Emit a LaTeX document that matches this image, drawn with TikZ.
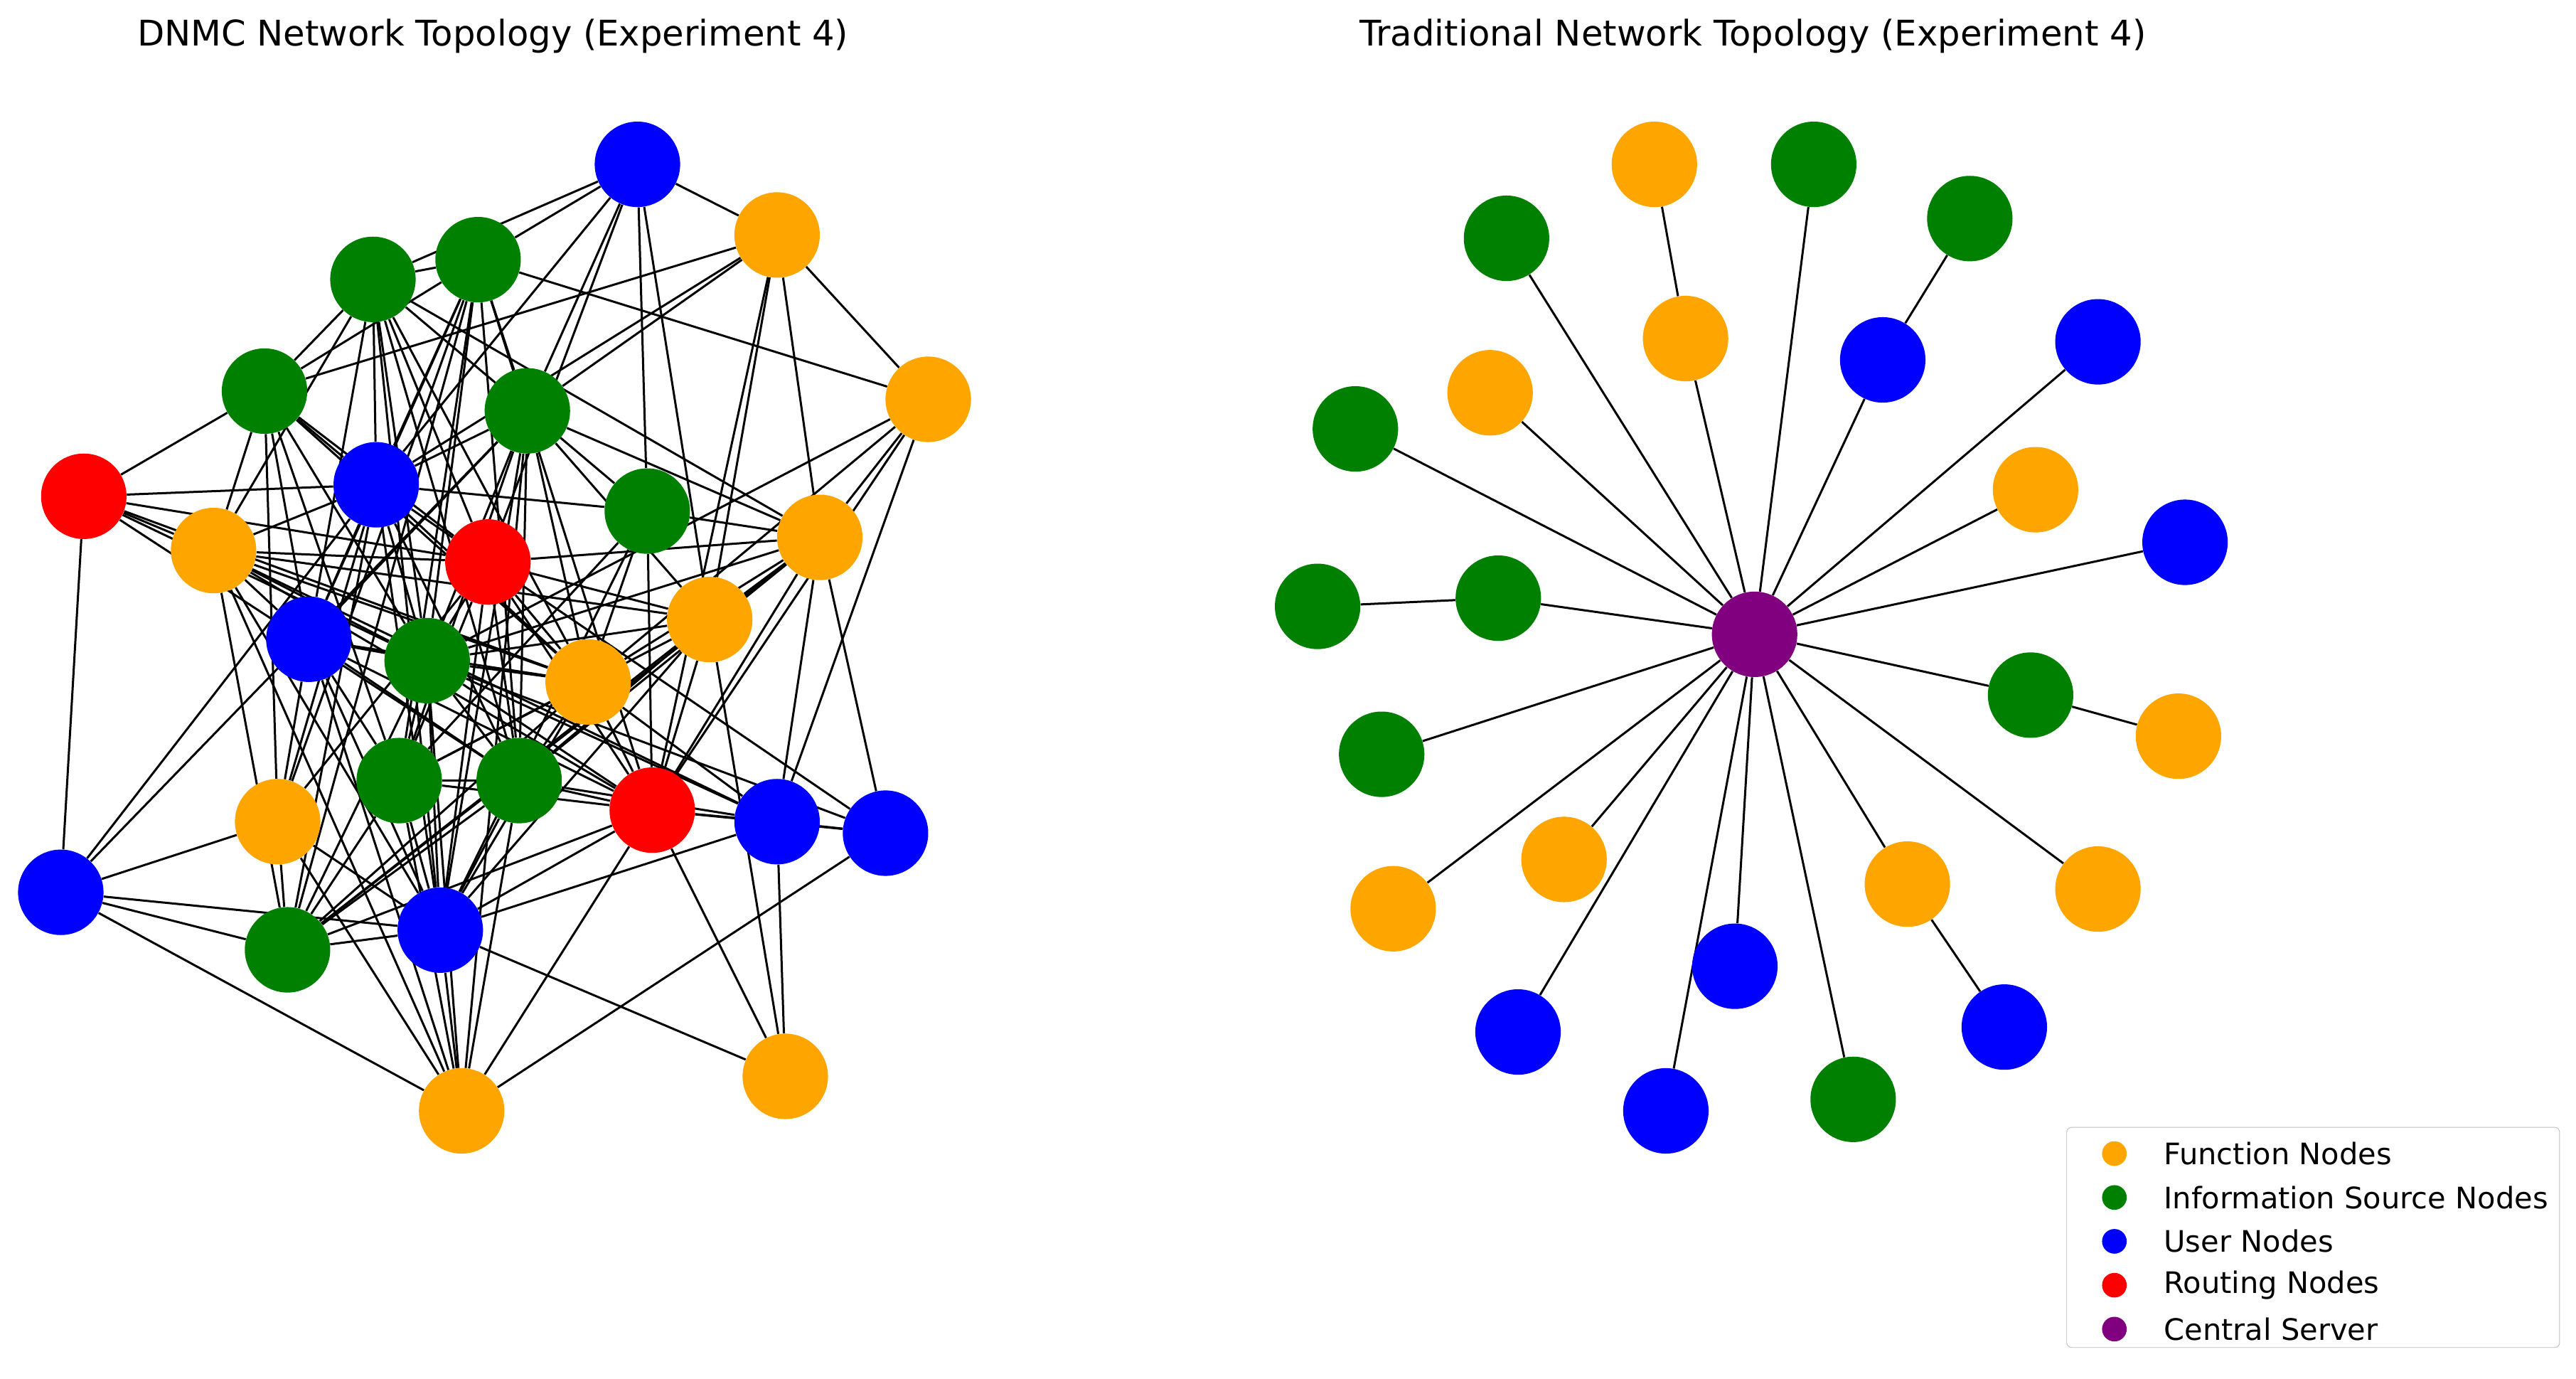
\documentclass[tikz,border=0pt]{standalone}
\usepackage{fontspec}
\setmainfont{DejaVu Sans}
\usetikzlibrary{backgrounds}
\definecolor{fcol}{RGB}{255,165,0}
\definecolor{scol}{RGB}{0,128,0}
\definecolor{ucol}{RGB}{0,0,255}
\definecolor{rcol}{RGB}{255,0,0}
\definecolor{ccol}{RGB}{128,0,128}
\begin{document}
\begin{tikzpicture}[x=1pt,y=-1pt,
    vtx/.style={circle,minimum size=52pt,inner sep=0pt},
    node_f/.style={vtx,fill=fcol},
    node_s/.style={vtx,fill=scol},
    node_u/.style={vtx,fill=ucol},
    node_r/.style={vtx,fill=rcol},
    node_c/.style={vtx,fill=ccol},
    link/.style={draw=black,line width=1.3pt},
    legdot/.style={circle,minimum size=15pt,inner sep=0pt},
    title/.style={font=\fontsize{21.5}{25}\selectfont},
    leg/.style={anchor=west,inner sep=0pt,font=\fontsize{18}{21}\selectfont}
  ]
  \useasboundingbox (0,0) rectangle (1568,839);
  \node[title] (t1) at (300,22) {DNMC Network Topology (Experiment 4)};
  \node[title] (t2) at (1067,22) {Traditional Network Topology (Experiment 4)};
  % DNMC graph
  \foreach \n/\s/\x/\y in {a1/u/388/100, a2/f/473/143, a3/s/227/170, a4/s/291/158,
      a5/s/161/238, a6/f/565/243, a7/s/321/250, a8/r/51/302, a9/u/229/295,
      a10/s/394/311, a11/f/499/327, a12/f/130/335, a13/r/297/342, a14/f/432/377,
      a15/u/188/389, a16/s/260/402, a17/f/358/415, a18/s/243/475, a19/s/316/475,
      a20/r/397/493, a21/u/473/500, a22/u/539/507, a23/f/169/500, a24/u/37/543,
      a25/u/268/566, a26/s/175/578, a27/f/478/655, a28/f/281/676}
    \node[node_\s] (\n) at (\x,\y) {};
  % traditional graph
  \node[node_c] (c) at (1068,386) {};
  \foreach \n/\s/\x/\y in {b1/f/1007/100, b2/s/1104/100, b3/s/917/145, b4/s/1199/133,
      b5/f/1026/206, b6/u/1146/219, b7/u/1277/208, b8/f/907/239, b9/s/825/261,
      b10/f/1239/298, b11/u/1330/330, b12/s/802/369, b13/s/912/364, b14/s/1236/423,
      b15/f/1326/448, b16/s/841/459, b17/f/848/553, b18/f/952/523, b19/f/1161/538,
      b20/f/1277/541, b21/u/1056/588, b22/u/924/628, b23/u/1220/625, b24/u/1014/676,
      b25/s/1128/669}
    \node[node_\s] (\n) at (\x,\y) {};
  \begin{scope}[on background layer]
    \foreach \a/\b in {a1/a3, a1/a4, a1/a2, a1/a9, a1/a13, a1/a10, a1/a14, a1/a7,
        a8/a5, a8/a9, a8/a12, a8/a24, a8/a16, a8/a17, a8/a19, a8/a13,
        a24/a23, a24/a25, a24/a26, a24/a28, a24/a9, a24/a7,
        a28/a25, a28/a16, a28/a18, a28/a19, a28/a20, a28/a22, a28/a15, a28/a12,
        a27/a25, a27/a20, a27/a21, a27/a14,
        a22/a20, a22/a21, a22/a11, a22/a16, a22/a13,
        a21/a20, a21/a19, a21/a11, a21/a6, a21/a25, a21/a12, a21/a17,
        a6/a4, a6/a2, a6/a11, a6/a17, a6/a16, a6/a20,
        a2/a5, a2/a9, a2/a14, a2/a11, a2/a20, a2/a7,
        a5/a9, a5/a13, a5/a15, a5/a16, a5/a12, a5/a17, a5/a3, a5/a4, a5/a18, a5/a23,
        a3/a4, a3/a9, a3/a13, a3/a16, a3/a17, a3/a19, a3/a15, a3/a12, a3/a11, a3/a10, a3/a25,
        a4/a7, a4/a9, a4/a15, a4/a16, a4/a19, a4/a18, a4/a20, a4/a26, a4/a23,
        a7/a9, a7/a15, a7/a16, a7/a18, a7/a19, a7/a17, a7/a25, a7/a11, a7/a28, a7/a14,
        a9/a10, a9/a12, a9/a13, a9/a15, a9/a16, a9/a19, a9/a17, a9/a23, a9/a26, a9/a25,
        a10/a11, a10/a25, a10/a18, a10/a17, a10/a20,
        a11/a13, a11/a14, a11/a16, a11/a17, a11/a20, a11/a26, a11/a19,
        a12/a13, a12/a15, a12/a16, a12/a17, a12/a20, a12/a25, a12/a14, a12/a26,
        a13/a14, a13/a16, a13/a17, a13/a19, a13/a20, a13/a18, a13/a23, a13/a25,
        a14/a18, a14/a19, a14/a20, a14/a25, a14/a26, a14/a16,
        a15/a16, a15/a17, a15/a18, a15/a19, a15/a20, a15/a23, a15/a25,
        a16/a17, a16/a18, a16/a19, a16/a20, a16/a21, a16/a25, a16/a26,
        a17/a18, a17/a19, a17/a20, a17/a25, a17/a26,
        a18/a19, a18/a20, a18/a25, a18/a26, a19/a20, a19/a25, a19/a26,
        a20/a25, a20/a26, a23/a25, a23/a26, a23/a28, a25/a26}
      \draw[link] (\a) -- (\b);
    \foreach \b in {b2, b3, b5, b6, b7, b8, b9, b10, b11, b13, b14, b16, b17,
        b18, b19, b20, b21, b22, b24, b25}
      \draw[link] (c) -- (\b);
    \foreach \a/\b in {b1/b5, b4/b6, b12/b13, b15/b14, b23/b19}
      \draw[link] (\a) -- (\b);
  \end{scope}
  % legend
  \node[draw=black!25,rounded corners=3pt,minimum width=300pt,minimum height=134pt,
    inner sep=0pt] (lbox) at (1408,753) {};
  \foreach \i/\s/\t in {0/f/Function Nodes, 1/s/Information Source Nodes,
      2/u/User Nodes, 3/r/Routing Nodes, 4/c/Central Server}{
    \node[legdot,fill=\s col] (m\i) at (1287,702+26.7*\i) {};
    \node[leg] (l\i) at (1317,702+26.7*\i) {\t};
  }
\end{tikzpicture}
\end{document}
